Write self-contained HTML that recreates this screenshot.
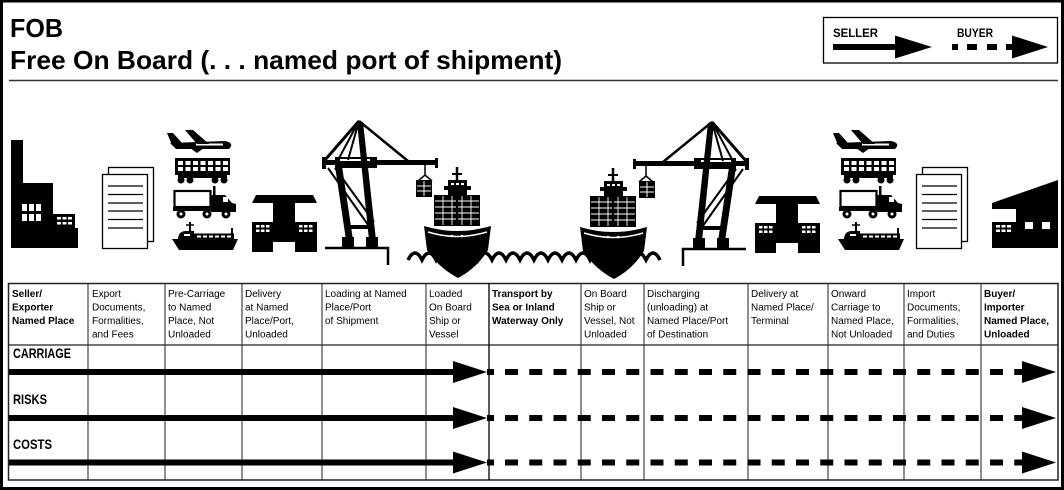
<!DOCTYPE html>
<html><head><meta charset="utf-8"><style>html,body{margin:0;padding:0;background:#fff}svg{display:block}</style></head>
<body>
<svg width="1064" height="490" viewBox="0 0 1064 490" xmlns="http://www.w3.org/2000/svg" font-family="'Liberation Sans', Arial, sans-serif">
<defs>
  <g id="transport">
    <!-- plane -->
    <path d="M170,143 L225,141 Q235,143 229,149 L176,149 Z" fill="#000"/>
    <rect x="196" y="143.5" width="27" height="2" fill="#fff"/>
    <path d="M185,130 L193,130 L209,144 L197,144 Z" fill="#000"/>
    <path d="M167,133 L173,133 L182,143 L172,145 Z" fill="#000"/>
    <path d="M190,148 L204,148 L197,153 Z" fill="#000"/>
    <!-- train -->
    <rect x="175" y="158" width="55" height="17" fill="#000"/>
    <g fill="#fff">
      <rect x="178" y="161" width="5" height="4"/><rect x="185.5" y="161" width="5" height="4"/><rect x="193" y="161" width="5" height="4"/><rect x="200.5" y="161" width="5" height="4"/><rect x="208" y="161" width="5" height="4"/><rect x="215.5" y="161" width="5" height="4"/><rect x="223" y="161" width="5" height="4"/>
      <rect x="178" y="167" width="5" height="4"/><rect x="185.5" y="167" width="5" height="4"/><rect x="193" y="167" width="5" height="4"/><rect x="200.5" y="167" width="5" height="4"/><rect x="208" y="167" width="5" height="4"/><rect x="215.5" y="167" width="5" height="4"/><rect x="223" y="167" width="5" height="4"/>
    </g>
    <rect x="178" y="174" width="49" height="4" fill="#000"/>
    <circle cx="181" cy="180" r="3.5" fill="#000"/><circle cx="190" cy="180" r="3.5" fill="#000"/>
    <circle cx="215" cy="180" r="3.5" fill="#000"/><circle cx="224" cy="180" r="3.5" fill="#000"/>
    <!-- truck -->
    <rect x="174.5" y="191" width="36" height="16" fill="#fff" stroke="#000" stroke-width="2.2"/>
    <rect x="213" y="186" width="2.5" height="9" fill="#000"/>
    <path d="M211,195 L225,195 L232,203 L236,204 L236,212 L211,212 Z" fill="#000"/>
    <rect x="223" y="197" width="5" height="5" fill="#fff"/>
    <rect x="173" y="207" width="63" height="4" fill="#000"/>
    <circle cx="181" cy="214" r="4.5" fill="#000"/><circle cx="207" cy="214" r="4.5" fill="#000"/><circle cx="226" cy="214" r="4.5" fill="#000"/>
    <circle cx="181" cy="214" r="1.5" fill="#fff"/><circle cx="207" cy="214" r="1.5" fill="#fff"/><circle cx="226" cy="214" r="1.5" fill="#fff"/>
    <!-- ship small -->
    <line x1="190" y1="222" x2="190" y2="232" stroke="#000" stroke-width="2"/>
    <line x1="186" y1="225" x2="194" y2="225" stroke="#000" stroke-width="1.5"/>
    <line x1="232" y1="228" x2="232" y2="238" stroke="#000" stroke-width="2"/>
    <path d="M178,240 Q178,231 186,231 L194,231 L194,240 Z" fill="#000"/>
    <rect x="184" y="234" width="6" height="2" fill="#fff"/>
    <rect x="194" y="233.5" width="40" height="6" fill="#000"/>
    <g fill="#fff"><rect x="197" y="235.5" width="4" height="2"/><rect x="203" y="235.5" width="4" height="2"/><rect x="209" y="235.5" width="4" height="2"/><rect x="215" y="235.5" width="4" height="2"/><rect x="221" y="235.5" width="4" height="2"/><rect x="227" y="235.5" width="4" height="2"/></g>
    <path d="M172,239 L238,239 L233,250 L179,250 Z" fill="#000"/>
  </g>
  <g id="terminal">
    <path d="M252,203 L256,195 L313,195 L317,203 Z" fill="#000"/>
    <rect x="273" y="202" width="22" height="40" fill="#000"/>
    <rect x="252" y="222" width="21" height="30" fill="#000"/>
    <rect x="295" y="222" width="22" height="30" fill="#000"/>
    <g fill="#fff">
      <rect x="256" y="225" width="3.5" height="2.5"/><rect x="261" y="225" width="3.5" height="2.5"/><rect x="266" y="225" width="3.5" height="2.5"/>
      <rect x="256" y="229.5" width="3.5" height="2.5"/><rect x="261" y="229.5" width="3.5" height="2.5"/><rect x="266" y="229.5" width="3.5" height="2.5"/>
      <rect x="299" y="225" width="3.5" height="2.5"/><rect x="304" y="225" width="3.5" height="2.5"/><rect x="309" y="225" width="3.5" height="2.5"/>
      <rect x="299" y="229.5" width="3.5" height="2.5"/><rect x="304" y="229.5" width="3.5" height="2.5"/><rect x="309" y="229.5" width="3.5" height="2.5"/>
    </g>
  </g>
  <g id="docs">
    <rect x="108.5" y="167.5" width="45" height="74" fill="#fff" stroke="#000" stroke-width="1.3"/>
    <rect x="102.5" y="174.5" width="45" height="74" fill="#fff" stroke="#000" stroke-width="1.3"/>
    <g stroke="#000" stroke-width="1.2">
      <line x1="108" y1="186" x2="143" y2="186"/><line x1="108" y1="194.5" x2="143" y2="194.5"/><line x1="108" y1="203" x2="143" y2="203"/>
      <line x1="108" y1="211" x2="143" y2="211"/><line x1="108" y1="219.5" x2="143" y2="219.5"/><line x1="108" y1="228" x2="143" y2="228"/>
    </g>
  </g>
  <g id="crane">
    <rect x="323" y="160" width="115" height="5" fill="#000"/>
    <rect x="335" y="157" width="42" height="11" fill="#000"/>
    <rect x="340" y="159" width="30" height="2" fill="#fff"/>
    <rect x="322" y="157" width="4" height="12" fill="#000"/>
    <rect x="435" y="158" width="3" height="10" fill="#000"/>
    <g stroke="#000" fill="none">
      <line x1="359" y1="121" x2="325" y2="160" stroke-width="3"/>
      <line x1="359" y1="121" x2="338" y2="160" stroke-width="2"/>
      <line x1="359" y1="121" x2="348" y2="160" stroke-width="2"/>
      <line x1="359" y1="121" x2="408" y2="161" stroke-width="2.5"/>
      <line x1="328" y1="168" x2="371" y2="229" stroke-width="2"/>
      <line x1="335" y1="168" x2="374" y2="222" stroke-width="2"/>
      <path d="M325,248 H388 V265" stroke-width="2.5"/>
      <line x1="425" y1="165" x2="425" y2="176" stroke-width="1.5"/>
      <path d="M418,181 L425,175 L432,181" stroke-width="1.5"/>
    </g>
    <polygon points="335,166 342,166 353,240 346,240" fill="#000"/>
    <polygon points="357,122 363,122 376,240 369,240" fill="#000"/>
    <rect x="346" y="225" width="27" height="4" fill="#000"/>
    <rect x="342" y="237" width="12" height="11" fill="#000"/>
    <rect x="366" y="237" width="12" height="11" fill="#000"/>
    <rect x="416" y="180" width="16" height="17" fill="#000"/>
    <g stroke="#fff" stroke-width="1"><line x1="417" y1="186" x2="431" y2="186"/><line x1="417" y1="191" x2="431" y2="191"/><line x1="424" y1="181" x2="424" y2="196"/></g>
  </g>
  <g id="ship">
    <line x1="457" y1="167" x2="457" y2="182" stroke="#000" stroke-width="2.5"/>
    <line x1="452" y1="174" x2="462" y2="174" stroke="#000" stroke-width="2"/>
    <rect x="448" y="180" width="19" height="16" fill="#000"/>
    <rect x="444" y="186" width="27" height="4" fill="#000"/>
    <g fill="#fff"><rect x="451" y="183" width="3" height="2"/><rect x="456" y="183" width="3" height="2"/><rect x="461" y="183" width="3" height="2"/></g>
    <rect x="434" y="195" width="46" height="31" fill="#000"/>
    <g stroke="#fff" stroke-width="0.9">
      <line x1="435" y1="201" x2="479" y2="201"/><line x1="435" y1="207" x2="479" y2="207"/><line x1="435" y1="213" x2="479" y2="213"/><line x1="435" y1="219" x2="479" y2="219"/>
      <line x1="443" y1="196" x2="443" y2="225"/><line x1="452" y1="196" x2="452" y2="225"/><line x1="462" y1="196" x2="462" y2="225"/><line x1="471" y1="196" x2="471" y2="225"/>
    </g>
    <line x1="457" y1="200" x2="457" y2="226" stroke="#000" stroke-width="2"/>
    <path d="M424,226 Q457,236 491,226 L488,250 Q477,268 458,278 Q439,268 427,250 Z" fill="#000"/>
    <path d="M428,232 Q457,241 487,232" stroke="#fff" stroke-width="1.5" fill="none"/>
    <circle cx="452" cy="236" r="1.3" fill="#fff"/><circle cx="462" cy="236" r="1.3" fill="#fff"/>
  </g>
</defs>

<!-- outer frame -->
<rect x="0" y="0" width="1064" height="2.5" fill="#000"/>
<rect x="0" y="0" width="3" height="490" fill="#000"/>
<rect x="1061" y="0" width="3" height="490" fill="#000"/>
<rect x="0" y="487" width="1064" height="3" fill="#000"/>

<!-- title -->
<text x="10" y="37" font-size="26" font-weight="bold" textLength="53" lengthAdjust="spacingAndGlyphs">FOB</text>
<text x="10" y="69" font-size="26" font-weight="bold" textLength="552" lengthAdjust="spacingAndGlyphs">Free On Board (. . . named port of shipment)</text>
<line x1="9" y1="80.5" x2="1058" y2="80.5" stroke="#333" stroke-width="1.5"/>

<!-- legend -->
<rect x="823.5" y="17.5" width="234" height="45.5" fill="#fff" stroke="#000" stroke-width="1.3"/>
<text x="833" y="37" font-size="12" font-weight="bold" textLength="45" lengthAdjust="spacingAndGlyphs">SELLER</text>
<text x="957" y="37" font-size="12" font-weight="bold" textLength="36" lengthAdjust="spacingAndGlyphs">BUYER</text>
<rect x="833" y="44" width="63" height="6" fill="#000"/>
<polygon points="895,35.5 932,47 895,58.5" fill="#000"/>
<g fill="#000"><rect x="952" y="44" width="6" height="6"/><rect x="967" y="44" width="10" height="6"/><rect x="987" y="44" width="10" height="6"/><rect x="1006" y="44" width="7" height="6"/></g>
<polygon points="1012,35.5 1048,47 1012,58.5" fill="#000"/>

<!-- illustrations -->
<!-- factory -->
<g fill="#000">
  <rect x="11" y="140" width="12" height="44"/>
  <rect x="11" y="183" width="42" height="65"/>
  <rect x="53" y="214" width="22" height="15"/>
  <rect x="53" y="228" width="25" height="20"/>
</g>
<g fill="#fff">
  <rect x="22" y="204" width="5" height="7"/><rect x="29" y="204" width="5" height="7"/><rect x="36" y="204" width="5" height="7"/>
  <rect x="22" y="214" width="5" height="7"/><rect x="29" y="214" width="5" height="7"/><rect x="36" y="214" width="5" height="7"/>
  <rect x="57" y="217" width="4" height="2.5"/><rect x="62.5" y="217" width="4" height="2.5"/><rect x="68" y="217" width="4" height="2.5"/>
  <rect x="57" y="222" width="4" height="2.5"/><rect x="62.5" y="222" width="4" height="2.5"/><rect x="68" y="222" width="4" height="2.5"/>
</g>
<use href="#docs"/>
<use href="#transport"/>
<use href="#terminal"/>
<use href="#crane"/>
<use href="#crane" transform="translate(1071,1) scale(-1,1)"/>
<!-- waves -->
<path d="M408,260 q7,-14 14,0 q7,-14 14,0 q7,-14 14,0 q7,-14 14,0 q7,-14 14,0 q7,-14 14,0 q7,-14 14,0 q7,-14 14,0 q7,-14 14,0 q7,-14 14,0 q7,-14 14,0 q7,-14 14,0 q7,-14 14,0 q7,-14 14,0 q7,-14 14,0 q7,-14 14,0 q7,-14 14,0 q7,-14 14,0" fill="none" stroke="#000" stroke-width="3.5"/>
<use href="#ship"/>
<use href="#ship" transform="translate(156,1)"/>
<use href="#terminal" transform="translate(503,1)"/>
<use href="#transport" transform="translate(666,0)"/>
<use href="#docs" transform="translate(814,0)"/>
<!-- warehouse right -->
<path d="M992,203 L1058,180 L1058,248 L992,248 L992,222 L1016,222 L1016,209 L992,209 Z" fill="#000"/>
<g fill="#fff">
  <rect x="996" y="225" width="4" height="2.5"/><rect x="1001.5" y="225" width="4" height="2.5"/><rect x="1007" y="225" width="4" height="2.5"/>
  <rect x="996" y="229.5" width="4" height="2.5"/><rect x="1001.5" y="229.5" width="4" height="2.5"/><rect x="1007" y="229.5" width="4" height="2.5"/>
  <rect x="1025" y="222" width="8" height="7"/><rect x="1042" y="222" width="8" height="7"/>
</g>

<!-- table -->
<rect x="8.5" y="283.5" width="1049.5" height="196.5" fill="none" stroke="#222" stroke-width="1.5"/>
<line x1="8" y1="345" x2="1058" y2="345" stroke="#222" stroke-width="1.2"/>
<g stroke="#333" stroke-width="1.1">
  <line x1="88" y1="283" x2="88" y2="480"/>
  <line x1="165" y1="283" x2="165" y2="480"/>
  <line x1="242" y1="283" x2="242" y2="480"/>
  <line x1="322" y1="283" x2="322" y2="480"/>
  <line x1="426" y1="283" x2="426" y2="480"/>
  <line x1="581" y1="283" x2="581" y2="480"/>
  <line x1="644" y1="283" x2="644" y2="480"/>
  <line x1="748" y1="283" x2="748" y2="480"/>
  <line x1="828" y1="283" x2="828" y2="480"/>
  <line x1="904" y1="283" x2="904" y2="480"/>
  <line x1="981" y1="283" x2="981" y2="480"/>
</g>
<line x1="489" y1="283" x2="489" y2="480" stroke="#000" stroke-width="1.3"/>

<!-- header text -->
<g font-size="10" fill="#000">
  <g font-weight="bold">
    <text x="12" y="297">Seller/</text><text x="12" y="310.5">Exporter</text><text x="12" y="324">Named Place</text>
    <text x="492" y="297">Transport by</text><text x="492" y="310.5">Sea or Inland</text><text x="492" y="324">Waterway Only</text>
    <text x="984" y="297">Buyer/</text><text x="984" y="310.5">Importer</text><text x="984" y="324">Named Place,</text><text x="984" y="337.5">Unloaded</text>
  </g>
  <text x="92" y="297">Export</text><text x="92" y="310.5">Documents,</text><text x="92" y="324">Formalities,</text><text x="92" y="337.5">and Fees</text>
  <text x="168" y="297">Pre-Carriage</text><text x="168" y="310.5">to Named</text><text x="168" y="324">Place, Not</text><text x="168" y="337.5">Unloaded</text>
  <text x="245" y="297">Delivery</text><text x="245" y="310.5">at Named</text><text x="245" y="324">Place/Port,</text><text x="245" y="337.5">Unloaded</text>
  <text x="325" y="297">Loading at Named</text><text x="325" y="310.5">Place/Port</text><text x="325" y="324">of Shipment</text>
  <text x="429" y="297">Loaded</text><text x="429" y="310.5">On Board</text><text x="429" y="324">Ship or</text><text x="429" y="337.5">Vessel</text>
  <text x="584" y="297">On Board</text><text x="584" y="310.5">Ship or</text><text x="584" y="324">Vessel, Not</text><text x="584" y="337.5">Unloaded</text>
  <text x="647" y="297">Discharging</text><text x="647" y="310.5">(unloading) at</text><text x="647" y="324">Named Place/Port</text><text x="647" y="337.5">of Destination</text>
  <text x="751" y="297">Delivery at</text><text x="751" y="310.5">Named Place/</text><text x="751" y="324">Terminal</text>
  <text x="831" y="297">Onward</text><text x="831" y="310.5">Carriage to</text><text x="831" y="324">Named Place,</text><text x="831" y="337.5">Not Unloaded</text>
  <text x="907" y="297">Import</text><text x="907" y="310.5">Documents,</text><text x="907" y="324">Formalities,</text><text x="907" y="337.5">and Duties</text>
</g>

<!-- row labels -->
<g font-size="14" font-weight="bold">
  <text x="13" y="358" textLength="58" lengthAdjust="spacingAndGlyphs">CARRIAGE</text>
  <text x="13" y="404" textLength="34" lengthAdjust="spacingAndGlyphs">RISKS</text>
  <text x="13" y="449" textLength="39" lengthAdjust="spacingAndGlyphs">COSTS</text>
</g>

<!-- arrows -->
<g fill="#000">
  <rect x="9" y="369" width="446" height="6"/>
  <polygon points="453,361 487,372 453,383"/>
  <rect x="487" y="369" width="7" height="6"/>
  <polygon points="1022,361 1056,372 1022,383"/>
  <rect x="9" y="415" width="446" height="6"/>
  <polygon points="453,407 487,418 453,429"/>
  <rect x="487" y="415" width="7" height="6"/>
  <polygon points="1022,407 1056,418 1022,429"/>
  <rect x="9" y="459.5" width="446" height="6"/>
  <polygon points="453,451.5 487,462.5 453,473.5"/>
  <rect x="487" y="459.5" width="7" height="6"/>
  <polygon points="1022,451.5 1056,462.5 1022,473.5"/>
</g>
<g stroke="#000" stroke-width="6" stroke-dasharray="13 11.25">
  <line x1="505" y1="372" x2="1023" y2="372"/>
  <line x1="505" y1="418" x2="1023" y2="418"/>
  <line x1="505" y1="462.5" x2="1023" y2="462.5"/>
</g>
</svg>
</body></html>
